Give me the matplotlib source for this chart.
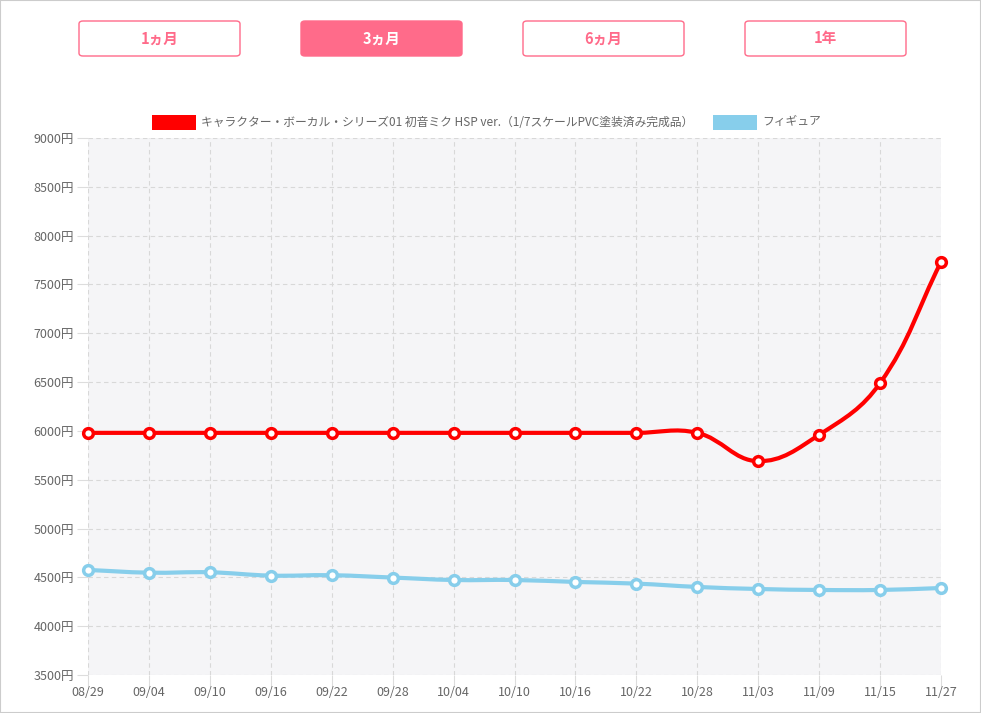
import matplotlib
matplotlib.use("Agg")
import matplotlib.pyplot as plt
from matplotlib.path import Path
from matplotlib.patches import PathPatch, FancyBboxPatch, Rectangle
import numpy as np

plt.rcParams['font.family'] = ['Noto Sans CJK JP', 'DejaVu Sans']

dates = ["08/29", "09/04", "09/10", "09/16", "09/22", "09/28", "10/04", "10/10",
         "10/16", "10/22", "10/28", "11/03", "11/09", "11/15", "11/27"]
miku_prices = [5980, 5980, 5980, 5980, 5980, 5980, 5980, 5980,
               5980, 5980, 5980, 5690, 5960, 6490, 7730]
figure_prices = [4576, 4548, 4552, 4518, 4522, 4498, 4473, 4473,
                 4453, 4436, 4402, 4381, 4371, 4371, 4391]
series_names = ["キャラクター・ボーカル・シリーズ01 初音ミク HSP ver.（1/7スケールPVC塗装済み完成品）",
                "フィギュア"]
series_colors = ["#ff0000", "#87ceeb"]
buttons = ["1ヵ月", "3ヵ月", "6ヵ月", "1年"]
active_button = 1
y_ticks = list(range(3500, 9001, 500))

W, H = 981, 713
PINK = "#ff6b8a"
GRAY = "#666666"

fig = plt.figure(figsize=(W / 100, H / 100), dpi=100)
fig.patch.set_facecolor("white")

# plot area in pixels: left 88, right 941, top 138, bottom 675
ax = fig.add_axes([88 / W, 1 - 675 / H, (941 - 88) / W, (675 - 138) / H])
ax.set_facecolor("#f5f5f7")
ax.set_xlim(0, len(dates) - 1)
ax.set_ylim(3500, 9000)
for s in ax.spines.values():
    s.set_visible(False)

ax.set_yticks(y_ticks)
ax.set_yticklabels([f"{v}円" for v in y_ticks])
ax.set_xticks(range(len(dates)))
ax.set_xticklabels(dates)
ax.tick_params(axis="both", colors="#dddddd", labelcolor=GRAY, labelsize=9, length=8, width=0.8)
ax.tick_params(axis="x", pad=0)
ax.tick_params(axis="y", pad=2)
ax.grid(True, color="#d8d8d8", linestyle=(0, (4, 3)), linewidth=0.8)
ax.set_axisbelow(True)

# pixel scale for spline distances (like Chart.js)
sx = (941 - 88) / (len(dates) - 1)
sy = (675 - 138) / (9000 - 3500)


def spline_path(xs, ys, t=0.4):
    px = np.array(xs, float) * sx
    py = np.array(ys, float) * sy
    n = len(px)
    cp_prev = []
    cp_next = []
    for i in range(n):
        p0 = max(i - 1, 0)
        p2 = min(i + 1, n - 1)
        d01 = np.hypot(px[i] - px[p0], py[i] - py[p0])
        d12 = np.hypot(px[p2] - px[i], py[p2] - py[i])
        tot = d01 + d12
        s01 = d01 / tot if tot else 0
        s12 = d12 / tot if tot else 0
        fa, fb = t * s01, t * s12
        dx, dy = px[p2] - px[p0], py[p2] - py[p0]
        cp_prev.append((px[i] - fa * dx, py[i] - fa * dy))
        cp_next.append((px[i] + fb * dx, py[i] + fb * dy))
    verts = [(px[0], py[0])]
    codes = [Path.MOVETO]
    for i in range(1, n):
        verts += [cp_next[i - 1], cp_prev[i], (px[i], py[i])]
        codes += [Path.CURVE4] * 3
    verts = [(vx / sx, vy / sy) for vx, vy in verts]
    return Path(verts, codes)


xs = range(len(dates))
for vals, col in [(figure_prices, series_colors[1]), (miku_prices, series_colors[0])]:
    ax.add_patch(PathPatch(spline_path(xs, vals), facecolor="none", edgecolor=col,
                           linewidth=3, capstyle="round", joinstyle="round", zorder=3))
    ax.plot(xs, vals, linestyle="none", marker="o", markersize=7,
            markerfacecolor="white", markeredgecolor=col, markeredgewidth=2.5,
            zorder=4, clip_on=False)

# legend
leg_y = 1 - 122 / H
fig.patches.append(Rectangle((152 / W, 1 - 130 / H), 44 / W, 15 / H, transform=fig.transFigure,
                             facecolor=series_colors[0], edgecolor="none"))
fig.text(201 / W, leg_y, series_names[0], fontsize=8.5, color=GRAY, va="center", ha="left")
fig.patches.append(Rectangle((713 / W, 1 - 130 / H), 44 / W, 15 / H, transform=fig.transFigure,
                             facecolor=series_colors[1], edgecolor="none"))
fig.text(762 / W, leg_y, series_names[1], fontsize=8.5, color=GRAY, va="center", ha="left")

# range buttons
bx = [79, 301, 523, 745]
for i, (label, x0) in enumerate(zip(buttons, bx)):
    active = i == active_button
    fig.patches.append(FancyBboxPatch((x0 / W, 1 - 56 / H), 161 / W, 35 / H,
                                      boxstyle="round,pad=0,rounding_size=0.004",
                                      transform=fig.transFigure,
                                      facecolor=PINK if active else "white",
                                      edgecolor=PINK, linewidth=1))
    fig.text((x0 + 80.5) / W, 1 - 38.5 / H, label, fontsize=10.5, fontweight="bold",
             color="white" if active else PINK, ha="center", va="center")

# outer frame
fig.patches.append(Rectangle((0, 0), 1, 1, transform=fig.transFigure, facecolor="none",
                             edgecolor="#cccccc", linewidth=1.5))

fig.savefig("out.png", dpi=100)
